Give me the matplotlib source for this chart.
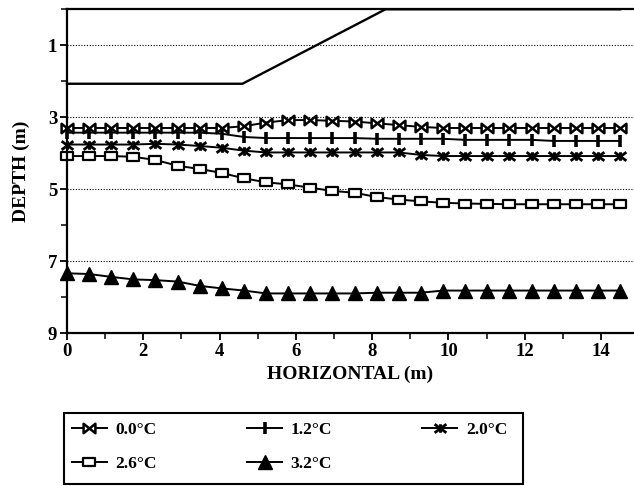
import matplotlib
matplotlib.use("Agg")
import matplotlib.pyplot as plt
from matplotlib.path import Path
from matplotlib.patches import Rectangle
from matplotlib.ticker import MultipleLocator, FixedLocator

# ---- data -------------------------------------------------------------
horizontal_m = [0.0, 0.58, 1.16, 1.74, 2.32, 2.90, 3.48, 4.06, 4.64, 5.22,
                5.80, 6.38, 6.96, 7.54, 8.12, 8.70, 9.28, 9.86, 10.44, 11.02,
                11.60, 12.18, 12.76, 13.34, 13.92, 14.50]

depth_0_0 = [3.30, 3.30, 3.30, 3.30, 3.30, 3.30, 3.30, 3.30, 3.25, 3.15,
             3.08, 3.08, 3.10, 3.12, 3.17, 3.22, 3.27, 3.30, 3.30, 3.30,
             3.30, 3.30, 3.30, 3.30, 3.30, 3.30]
depth_1_2 = [3.43, 3.43, 3.43, 3.43, 3.43, 3.43, 3.43, 3.46, 3.55, 3.58,
             3.58, 3.58, 3.58, 3.58, 3.60, 3.60, 3.60, 3.60, 3.63, 3.63,
             3.63, 3.63, 3.66, 3.66, 3.66, 3.66]
depth_2_0 = [3.76, 3.76, 3.76, 3.76, 3.74, 3.76, 3.80, 3.85, 3.93, 3.98,
             3.98, 3.98, 3.98, 3.98, 3.98, 3.98, 4.05, 4.08, 4.08, 4.08,
             4.08, 4.08, 4.08, 4.08, 4.08, 4.08]
depth_2_6 = [4.08, 4.08, 4.08, 4.10, 4.19, 4.35, 4.44, 4.55, 4.70, 4.81,
             4.87, 4.96, 5.05, 5.10, 5.22, 5.29, 5.34, 5.38, 5.40, 5.41,
             5.42, 5.42, 5.42, 5.42, 5.42, 5.42]
depth_3_2 = [7.34, 7.36, 7.44, 7.51, 7.53, 7.57, 7.69, 7.76, 7.82, 7.90,
             7.90, 7.90, 7.90, 7.90, 7.88, 7.88, 7.88, 7.82, 7.82, 7.82,
             7.82, 7.82, 7.82, 7.82, 7.82, 7.82]

series_labels = ["0.0°C", "1.2°C", "2.0°C", "2.6°C", "3.2°C"]

# boundary line (depth 2 m, rising to the surface)
boundary_x = [0.0, 4.6, 8.35, 14.5]
boundary_depth = [2.07, 2.07, 0.0, 0.0]

x_ticks = [0, 2, 4, 6, 8, 10, 12, 14]
y_ticks = [1, 3, 5, 7, 9]

# ---- custom markers ---------------------------------------------------
bowtie = Path([(-1, -0.8), (0, 0), (-1, 0.8), (-1, -0.8),
               (1, -0.8), (0, 0), (1, 0.8), (1, -0.8)],
              [Path.MOVETO, Path.LINETO, Path.LINETO, Path.CLOSEPOLY,
               Path.MOVETO, Path.LINETO, Path.LINETO, Path.CLOSEPOLY])
zhe = Path([(0, -0.8), (0, 0.8), (-1.1, -0.8), (1.1, 0.8),
            (-1.1, 0.8), (1.1, -0.8)],
           [Path.MOVETO, Path.LINETO, Path.MOVETO, Path.LINETO,
            Path.MOVETO, Path.LINETO])
box = Path([(-1, -0.7), (1, -0.7), (1, 0.7), (-1, 0.7), (-1, -0.7)],
           [Path.MOVETO, Path.LINETO, Path.LINETO, Path.LINETO,
            Path.CLOSEPOLY])

serif = ["Liberation Serif", "DejaVu Serif"]
plt.rcParams["font.family"] = serif
plt.rcParams["font.weight"] = "bold"

W, H = 634, 486
fig = plt.figure(figsize=(W / 100, H / 100), dpi=100)
ax = fig.add_axes([67 / W, 1 - 333 / H, (633 - 67) / W, (333 - 9.3) / H])

lw = 1.4
ax.plot(boundary_x, boundary_depth, color="black", lw=1.7, clip_on=False)

styles = [
    dict(marker=bowtie, ms=8.5, mfc="white", mec="black", mew=1.8),
    dict(marker="|", ms=8, mec="black", mew=2.6),
    dict(marker=zhe, ms=8.5, mec="black", mew=2.0),
    dict(marker=box, ms=9, mfc="white", mec="black", mew=1.6),
    dict(marker="^", ms=10, mfc="black", mec="black", mew=1.0),
]
all_depths = [depth_0_0, depth_1_2, depth_2_0, depth_2_6, depth_3_2]
handles = []
for d, st, lab in zip(all_depths, styles, series_labels):
    h, = ax.plot(horizontal_m, d, color="black", lw=lw, label=lab,
                 clip_on=False, **st)
    handles.append(h)

ax.set_xlim(0, 14.84)
ax.set_ylim(9, 0)

ax.xaxis.set_major_locator(FixedLocator(x_ticks))
ax.xaxis.set_minor_locator(MultipleLocator(1))
ax.yaxis.set_major_locator(FixedLocator(y_ticks))
ax.yaxis.set_minor_locator(MultipleLocator(1))
ax.tick_params(which="major", direction="out", length=5, width=1.3,
               labelsize=13.5, pad=2)
ax.tick_params(which="minor", direction="out", length=4, width=1.1)
for t in ax.get_xticklabels() + ax.get_yticklabels():
    t.set_fontweight("bold")

for yv in [1, 3, 5, 7]:
    ax.axhline(yv, color="black", lw=0.8, ls=(0, (1, 1.5)), zorder=0)

ax.spines["right"].set_visible(False)
for s in ["left", "bottom", "top"]:
    ax.spines[s].set_linewidth(1.6)

ax.set_xlabel("HORIZONTAL (m)", fontsize=14, fontweight="bold", labelpad=4)
ax.set_ylabel("DEPTH (m)", fontsize=14, fontweight="bold", labelpad=13)

# legend: entries laid out row by row, frame drawn separately
order = [0, 3, 1, 4, 2]
leg = fig.legend([handles[i] for i in order], [series_labels[i] for i in order],
                 loc="upper left",
                 bbox_to_anchor=(72 / W, 1 - 422 / H),
                 ncol=3, numpoints=1, frameon=False,
                 prop=dict(family=serif, weight="bold", size=12.5),
                 handlelength=2.0, handletextpad=0.5, columnspacing=5.2,
                 labelspacing=1.0, borderpad=0.0, borderaxespad=0)
fig.add_artist(Rectangle((64 / W, 1 - 484 / H), (523 - 64) / W, (484 - 413) / H,
                         transform=fig.transFigure, fill=False,
                         edgecolor="black", lw=1.5))

fig.savefig("out.png", dpi=100, facecolor="white")
